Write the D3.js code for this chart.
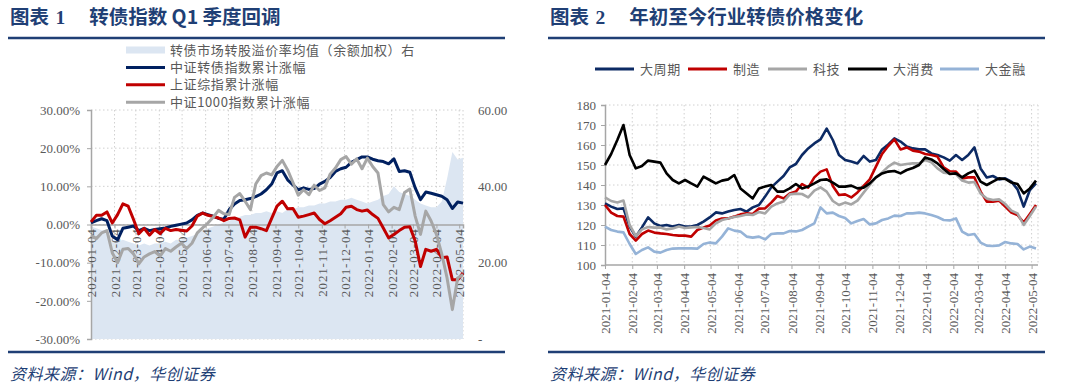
<!DOCTYPE html>
<html>
<head>
<meta charset="utf-8">
<script src="https://cdn.jsdelivr.net/npm/d3@7"></script>
<style>
  body { margin: 0; background: #fff; }
  svg text { font-family: "Liberation Serif", "Noto Sans CJK SC", serif; }
  .cjk { font-family: "Noto Sans CJK SC", sans-serif; }
</style>
</head>
<body>
<div id="chart"></div>
<script>
// Month tick labels (shared by both panels)
const monthTicks = ["2021-01-04","2021-02-04","2021-03-04","2021-04-04","2021-05-04","2021-06-04",
  "2021-07-04","2021-08-04","2021-09-04","2021-10-04","2021-11-04","2021-12-04",
  "2022-01-04","2022-02-04","2022-03-04","2022-04-04","2022-05-04"];

// Weekly sample dates, 2021-01-04 .. 2022-05-09
const weekCount = 71;

// Chart 1: cumulative returns (%) and premium rate (right axis)
const cbIndex = [0.4,1.0,1.5,1.0,-3.0,-4.0,-1.0,-0.7,-0.4,-1.6,
  -1.0,-1.6,-1.3,-1.1,-0.9,-0.5,-0.2,0.1,0.4,1.2,
  2.4,3.0,2.6,2.2,1.6,1.4,3.9,5.4,6.3,6.5,
  6.8,7.3,8.0,9.1,10.6,13.5,14.1,11.7,10.4,9.1,
  9.6,9.2,9.4,10.6,11.3,12.3,13.9,14.6,15.0,16.3,
  17.0,17.7,17.7,17.1,16.7,16.5,15.9,17.2,13.9,14.1,
  13.7,9.6,6.5,8.5,8.2,7.8,7.4,6.5,4.2,5.9,
  5.6];
const shComp = [0.7,2.4,2.4,3.3,0.4,2.6,5.4,4.8,1.3,-2.4,
  -1.0,-2.8,-1.3,-2.4,-1.0,-1.6,-1.3,-1.5,-1.7,-0.4,
  2.2,3.0,2.4,2.1,1.7,1.0,1.6,1.7,1.2,-3.3,
  -0.7,-0.7,-1.1,-1.6,1.6,4.8,6.1,4.1,4.2,1.9,
  2.2,2.6,3.0,1.3,0.2,1.0,1.9,2.8,4.5,4.8,
  3.9,3.5,3.8,2.6,1.6,-0.9,-3.5,-2.6,-1.6,-0.7,
  -0.6,-4.3,-11.0,-6.5,-7.0,-6.5,-8.7,-8.5,-14.5,-14.5,
  -12.7];
const zz1000 = [-2.8,-3.7,-2.2,-1.6,-7.4,-10.0,-6.5,-6.3,-7.7,-10.3,
  -8.5,-7.7,-7.1,-8.3,-6.3,-7.0,-5.9,-4.9,-6.3,-4.9,
  -2.2,-0.9,0.4,1.9,3.7,2.8,2.6,7.1,8.1,6.1,
  3.9,10.6,12.8,13.5,13.0,15.2,16.8,14.3,11.0,7.7,
  9.1,7.8,10.3,8.9,9.6,13.2,14.8,17.0,17.8,15.8,
  17.2,14.6,17.4,15.2,13.5,5.2,3.3,4.5,3.9,8.4,
  9.3,2.2,-2.6,3.5,0.9,-2.6,-7.7,-14.0,-22.3,-14.0,
  -13.1];
const premium = [29.5,29,28.5,28.5,26,25.5,26,25.5,25,24.5,
  25,24.5,25,25,25.5,25,26,26,26.5,27,
  27.5,28.5,29,29.5,30,30.5,31,31.5,32,32.5,
  32.5,33,33,33.5,33,33.5,33,34,34,34.5,
  34.5,35,35,35.5,35.5,36,36,36.5,36.5,37,
  36.5,36,35.5,36,36.5,37.5,38,40,38.5,38,
  37.5,36.5,35.5,35,34.5,34.5,36,42,49,47,
  47.5];

// Chart 2: sector convertible bond prices
const bigCycle = [130.8,129.2,128,128.3,119.2,114.2,118.8,123.8,120.8,119.5,
  120,119.2,120,119.2,119.2,120,121.7,123.8,126.3,125.8,
  126.7,127.5,128,126.7,128.8,130,134.2,138.8,141.7,144.5,
  148.8,150.5,155,158.3,160.8,162.8,168.2,162.5,155,152.5,
  151.7,150.8,154.5,151.7,152.5,157.8,160.3,163.3,161.7,159.2,
  158.3,157.8,157.8,155.8,155,153.8,152.2,155,152.5,155,
  158.8,148.3,143.8,144.5,142.8,143.3,141.7,137.8,129.2,137.5,
  140.8];
const manuf = [130,126.2,124.5,124.2,115.5,112.2,115.5,117.2,116.2,115.8,
  115.5,115,114.7,114.7,114.2,117.5,118.7,119.7,122.2,123.2,
  123.3,124.2,125.3,125.8,125.5,128.2,128.3,131.2,134.5,133.3,
  135.8,136.7,140.5,138.7,143.8,146.7,147.8,139.5,135,135.3,
  133.8,136.3,139.5,142.8,149.2,155.5,159.5,162.8,157.8,158.8,
  157.2,156.7,155.5,155,154.2,148.8,146.8,146.7,143.3,143.8,
  143.8,136.7,131.7,131.7,132.2,129.2,126.2,125,121.2,125.5,
  130];
const tech = [133.8,132,131.3,132.2,120,114.5,117.8,119,118.7,118.8,
  117.8,118.3,119.2,118.5,118.8,119,118.5,117.8,120.8,122.5,
  123.2,124,124.5,125.3,125,126.5,125.8,129.2,130.8,131.7,
  135.3,135.7,135.5,133.8,137.2,138.8,136.7,132,130,131.2,
  130.3,132.2,136.2,140,143.8,146.3,149.2,151.2,150,150.5,
  150.8,150.8,152.5,151.3,148.3,146.2,145.8,145.5,142.2,141.2,
  141.5,135.8,133.2,132.5,132.8,130.5,127.2,125.8,120,124.5,
  129.2];
const consumer = [150,155.5,162.5,170,155,148.3,149.5,152.2,151.7,151.2,
  145.8,142.5,140.8,142.5,140.8,139.2,144.2,142.5,140.8,142.2,
  142.8,145,138.3,135.8,133.3,138.3,139.2,140,136.7,136.7,
  138.3,140.5,138.3,139.2,140.8,142.5,142.8,141.2,139.2,139.2,
  139.7,138.3,138.7,140.8,143.8,145.8,146.7,147,145.8,147.5,
  148.5,150,153.8,152.8,150.8,148,145.5,145.8,143.8,145.8,
  147.2,141.7,140,141.7,143.3,143,141.2,140.5,135.8,138.3,
  142.2];
const finance = [119.2,117.5,116.7,116.3,110.5,105.5,107.5,108.8,106.7,106.2,
  107.5,108.2,108.3,108.3,108.3,108.2,110.5,111.2,110.8,114.2,
  118.3,117.2,116.7,114.2,113.7,114.2,112.8,115.5,115.8,115.8,
  117,116.8,117.5,119.2,120.8,128.8,125.8,126.2,124.5,123.5,
  120.8,122,123,120.3,120.8,122.5,123.3,124.7,124.5,125.8,
  125.8,126.2,125.8,125,124,122.5,122.3,123.3,116.7,115,
  115.5,111.2,109.7,109.5,109.8,111.5,110.8,110.5,107.8,109.2,
  108.3];

const leftSeries = [
  {name: "中证转债指数累计涨幅", values: cbIndex, color: "#002060"},
  {name: "上证综指累计涨幅", values: shComp, color: "#c00000"},
  {name: "中证1000指数累计涨幅", values: zz1000, color: "#a6a6a6"}
];
const rightSeries = [
  {name: "大周期", values: bigCycle, color: "#0c2a64"},
  {name: "制造", values: manuf, color: "#c00000"},
  {name: "科技", values: tech, color: "#a6a6a6"},
  {name: "大消费", values: consumer, color: "#000000"},
  {name: "大金融", values: finance, color: "#95b3d7"}
];

const parse = d3.timeParse("%Y-%m-%d");
const start = parse("2021-01-04");
const weeks = d3.range(weekCount).map(i => d3.timeDay.offset(start, i * 7));
const tickDates = monthTicks.map(parse);

const navy = "#1f3f75";
const labelColor = "#595959";
const gridColor = "#d0d0d0";
const axisColor = "#a6a6a6";

const svg = d3.select("#chart").append("svg")
    .attr("width", 1071)
    .attr("height", 387);

// Titles, rules, sources
function frame(x0, x1, num, title) {
    const t = svg.append("text")
        .attr("x", x0 + 2).attr("y", 24)
        .attr("fill", navy)
        .style("font-size", "19.5px")
        .style("font-weight", "bold");
    t.append("tspan").attr("class", "cjk").text("图表 ");
    t.append("tspan").attr("dx", 2).text(num);
    t.append("tspan").attr("class", "cjk").attr("dx", 24).text(title);

    svg.append("line").attr("x1", x0).attr("x2", x1).attr("y1", 38).attr("y2", 38)
        .attr("stroke", navy).attr("stroke-width", 2.5);
    svg.append("line").attr("x1", x0).attr("x2", x1).attr("y1", 352).attr("y2", 352)
        .attr("stroke", navy).attr("stroke-width", 2.5);

    svg.append("text")
        .attr("class", "cjk")
        .attr("x", x0 + 2).attr("y", 380)
        .attr("fill", navy)
        .style("font-size", "16px")
        .style("font-style", "italic")
        .style("letter-spacing", "0.5px")
        .text("资料来源：Wind，华创证券");
}
frame(8, 505, "1", "转债指数 Q1 季度回调");
frame(548, 1045, "2", "年初至今行业转债价格变化");

// ---------- LEFT CHART ----------
(function() {
    const g = svg.append("g");
    const x = d3.scaleTime().domain([start, weeks[weekCount - 1]]).range([91, 463]);
    const y = d3.scaleLinear().domain([-30, 30]).range([339, 110]);
    const y2 = d3.scaleLinear().domain([0, 60]).range([339, 110]);

    // grid
    g.selectAll(".hgrid").data(d3.range(-30, 31, 10)).enter().append("line")
        .attr("x1", 91).attr("x2", 463)
        .attr("y1", d => y(d)).attr("y2", d => y(d))
        .attr("stroke", gridColor).attr("stroke-dasharray", "1.5,2.5");
    g.selectAll(".vgrid").data(tickDates.slice(1).concat([weeks[weekCount - 1]])).enter().append("line")
        .attr("x1", d => x(d)).attr("x2", d => x(d))
        .attr("y1", 110).attr("y2", 339)
        .attr("stroke", gridColor).attr("stroke-dasharray", "1.5,2.5");

    // premium area (right axis)
    const area = d3.area()
        .x((d, i) => x(weeks[i]))
        .y0(y2(0))
        .y1(d => y2(d));
    g.append("path").datum(premium)
        .attr("d", area)
        .attr("fill", "#dce6f2");

    // y axis (left)
    const yAxis = g.append("g")
        .attr("transform", "translate(91,0)")
        .call(d3.axisLeft(y).tickValues(d3.range(-30, 31, 10))
            .tickSize(4).tickFormat(d => d.toFixed(2) + "%"));
    yAxis.select(".domain").attr("stroke", axisColor).attr("stroke-width", 1.5);
    yAxis.selectAll(".tick line").attr("stroke", axisColor);
    yAxis.selectAll("text").attr("fill", labelColor).style("font-size", "13px").attr("x", -11);

    // right axis
    const yAxis2 = g.append("g")
        .attr("transform", "translate(463,0)")
        .call(d3.axisRight(y2).tickValues([0, 20, 40, 60]).tickSize(0)
            .tickFormat(d => d === 0 ? "-" : d.toFixed(2)));
    yAxis2.select(".domain").remove();
    yAxis2.selectAll("text").attr("fill", labelColor).style("font-size", "13px").attr("x", 15);

    // x axis at 0
    const xAxis = g.append("g")
        .attr("transform", `translate(0,${y(0)})`)
        .call(d3.axisBottom(x).tickValues(tickDates).tickSize(4)
            .tickFormat(d3.timeFormat("%Y-%m-%d")));
    xAxis.select(".domain").attr("stroke", axisColor).attr("stroke-width", 1.5);
    xAxis.selectAll(".tick line").attr("stroke", axisColor);
    xAxis.selectAll("text")
        .attr("fill", labelColor)
        .style("font-size", "13px")
        .style("letter-spacing", "0.8px")
        .attr("transform", "rotate(-90)")
        .attr("text-anchor", "end")
        .attr("x", -4).attr("y", 0).attr("dy", "0.35em");

    // lines
    const line = d3.line().x((d, i) => x(weeks[i])).y(d => y(d));
    leftSeries.forEach(s => {
        g.append("path").datum(s.values)
            .attr("d", line)
            .attr("fill", "none")
            .attr("stroke", s.color)
            .attr("stroke-width", 3)
            .attr("stroke-linejoin", "round");
    });

    // legend
    const legend = g.append("g").attr("transform", "translate(126,0)");
    const rows = [{name: "转债市场转股溢价率均值（余额加权）右", color: "#dce6f2", rect: true}]
        .concat(leftSeries);
    rows.forEach((r, i) => {
        const ly = 50 + i * 17.4;
        if (r.rect) {
            legend.append("rect").attr("x", 0).attr("y", ly - 3.5).attr("width", 39).attr("height", 7)
                .attr("fill", r.color);
        } else {
            legend.append("line").attr("x1", 0).attr("x2", 39).attr("y1", ly).attr("y2", ly)
                .attr("stroke", r.color).attr("stroke-width", 3);
        }
        legend.append("text").attr("class", "cjk")
            .attr("x", 44).attr("y", ly).attr("dy", "0.35em")
            .attr("fill", labelColor)
            .style("font-size", "13px")
            .style("letter-spacing", "0.6px")
            .text(r.name);
    });
})();

// ---------- RIGHT CHART ----------
(function() {
    const g = svg.append("g");
    const x = d3.scaleTime().domain([start, weeks[weekCount - 1]]).range([605, 1036]);
    const y = d3.scaleLinear().domain([100, 180]).range([265, 105]);

    g.selectAll(".hgrid").data(d3.range(110, 181, 10)).enter().append("line")
        .attr("x1", 605).attr("x2", 1038)
        .attr("y1", d => y(d)).attr("y2", d => y(d))
        .attr("stroke", gridColor).attr("stroke-dasharray", "1.5,2.5");
    g.selectAll(".vgrid").data(tickDates.slice(1)).enter().append("line")
        .attr("x1", d => x(d)).attr("x2", d => x(d))
        .attr("y1", 105).attr("y2", 265)
        .attr("stroke", gridColor).attr("stroke-dasharray", "1.5,2.5");
    g.append("line").attr("x1", 1038).attr("x2", 1038).attr("y1", 105).attr("y2", 265)
        .attr("stroke", gridColor).attr("stroke-dasharray", "1.5,2.5");

    const yAxis = g.append("g")
        .attr("transform", "translate(605,0)")
        .call(d3.axisLeft(y).tickValues(d3.range(100, 181, 10)).tickSize(4));
    yAxis.select(".domain").attr("stroke", axisColor).attr("stroke-width", 1.5);
    yAxis.selectAll(".tick line").attr("stroke", axisColor);
    yAxis.selectAll("text").attr("fill", labelColor).style("font-size", "13px").attr("x", -9);

    const xAxis = g.append("g")
        .attr("transform", `translate(0,${y(100)})`)
        .call(d3.axisBottom(x).tickValues(tickDates).tickSize(4)
            .tickFormat(d3.timeFormat("%Y-%m-%d")));
    xAxis.select(".domain").attr("stroke", axisColor).attr("stroke-width", 1.5)
        .attr("d", "M605,0H1038");
    xAxis.selectAll(".tick line").attr("stroke", axisColor);
    xAxis.selectAll("text")
        .attr("fill", labelColor)
        .style("font-size", "13px")
        .attr("transform", "rotate(-90)")
        .attr("text-anchor", "end")
        .attr("x", -8).attr("y", 0).attr("dy", "0.35em");

    const line = d3.line().x((d, i) => x(weeks[i])).y(d => y(d));
    rightSeries.forEach(s => {
        g.append("path").datum(s.values)
            .attr("d", line)
            .attr("fill", "none")
            .attr("stroke", s.color)
            .attr("stroke-width", 2.6)
            .attr("stroke-linejoin", "round");
    });

    // legend (one row)
    const legendX = [595, 688, 768, 848, 940];
    rightSeries.forEach((s, i) => {
        g.append("line").attr("x1", legendX[i]).attr("x2", legendX[i] + 39)
            .attr("y1", 69).attr("y2", 69)
            .attr("stroke", s.color).attr("stroke-width", 3);
        g.append("text").attr("class", "cjk")
            .attr("x", legendX[i] + 45).attr("y", 69).attr("dy", "0.35em")
            .attr("fill", labelColor)
            .style("font-size", "13px")
            .style("letter-spacing", "0.6px")
            .text(s.name);
    });
})();
</script>
</body>
</html>
